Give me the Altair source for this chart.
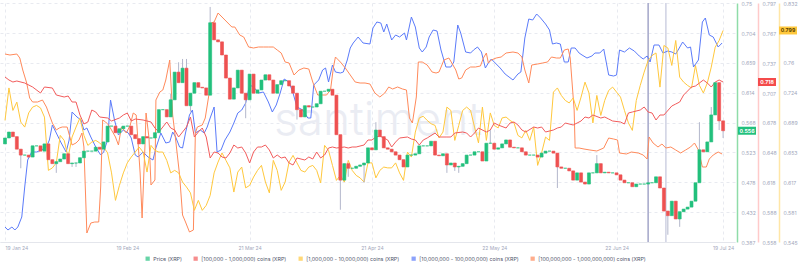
import altair as alt
import pandas as pd

# ---------------- data ----------------
tick_days = [0, 31, 62, 93, 124, 155, 182]          # days after 19 Jan 2024
tick_labels = ["19 Jan 24", "19 Feb 24", "21 Mar 24", "21 Apr 24",
               "22 May 24", "22 Jun 24", "19 Jul 24"]

# daily XRP close, 19 Jan 2024 .. 19 Jul 2024
price_close = [
    0.545, 0.554, 0.547, 0.528, 0.519, 0.519, 0.516, 0.533, 0.533, 0.525,
    0.536, 0.512, 0.506, 0.509, 0.513, 0.521, 0.506, 0.507, 0.507, 0.515,
    0.525, 0.525, 0.525, 0.531, 0.528, 0.539, 0.563, 0.563, 0.553, 0.559,
    0.563, 0.563, 0.550, 0.544, 0.536, 0.547, 0.545, 0.545, 0.553, 0.588,
    0.588, 0.577, 0.603, 0.645, 0.629, 0.651, 0.594, 0.613, 0.629, 0.622,
    0.621, 0.610, 0.720, 0.694, 0.691, 0.671, 0.636, 0.604, 0.621, 0.648,
    0.613, 0.603, 0.642, 0.613, 0.618, 0.633, 0.641, 0.633, 0.613, 0.626,
    0.632, 0.632, 0.624, 0.613, 0.588, 0.577, 0.594, 0.592, 0.592, 0.597,
    0.616, 0.616, 0.619, 0.610, 0.550, 0.481, 0.506, 0.499, 0.499, 0.502,
    0.504, 0.507, 0.530, 0.527, 0.557, 0.547, 0.530, 0.528, 0.524, 0.519,
    0.512, 0.501, 0.519, 0.519, 0.521, 0.533, 0.533, 0.533, 0.540, 0.519,
    0.518, 0.521, 0.504, 0.507, 0.501, 0.502, 0.506, 0.519, 0.519, 0.524,
    0.524, 0.510, 0.537, 0.537, 0.528, 0.530, 0.536, 0.542, 0.531, 0.530,
    0.530, 0.524, 0.519, 0.519, 0.519, 0.516, 0.522, 0.525, 0.525, 0.522,
    0.501, 0.499, 0.499, 0.495, 0.481, 0.492, 0.478, 0.475, 0.492, 0.492,
    0.506, 0.492, 0.493, 0.492, 0.492, 0.489, 0.481, 0.477, 0.477, 0.471,
    0.475, 0.475, 0.475, 0.477, 0.477, 0.486, 0.469, 0.434, 0.427, 0.449,
    0.422, 0.433, 0.437, 0.440, 0.449, 0.477, 0.527, 0.524, 0.539, 0.580,
    0.629, 0.571, 0.556,
]
price_first_open = 0.536
wick_high = {42: 0.612, 44: 0.660, 45: 0.665, 46: 0.665, 52: 0.744, 53: 0.712,
             94: 0.569, 123: 0.557, 150: 0.519, 176: 0.569, 179: 0.592}
wick_low = {4: 0.499, 13: 0.492, 17: 0.501, 18: 0.501, 47: 0.585, 61: 0.575,
            74: 0.573, 85: 0.436, 86: 0.481, 87: 0.486, 91: 0.477, 112: 0.492,
            114: 0.495, 115: 0.492, 140: 0.469, 168: 0.398, 171: 0.410,
            181: 0.557, 182: 0.545}

red_days = [0, 1, 2, 3, 5, 7, 9, 10, 12, 13, 15, 16, 17, 18, 19, 20, 21, 22, 23, 24,
            26, 27, 29, 30, 31, 32, 33, 35, 37, 38, 39, 40, 41, 42, 43, 44, 45, 46, 47, 48,
            49, 50, 51, 52, 53, 54, 55, 56, 57, 58, 59, 60, 61, 62, 63, 64, 65, 66, 67, 68,
            69, 70, 71, 72, 73, 74, 76, 77, 78, 79, 80, 81, 82, 83, 84, 86, 87, 88, 89, 91,
            92, 93, 94, 95, 97, 98, 99, 100, 102, 103, 104, 105, 106, 107, 109, 110, 112, 113, 114, 116,
            117, 118, 119, 120, 122, 123, 124, 125, 127, 128, 129, 130, 131, 132, 134, 135, 136, 137, 139, 140,
            141, 142, 144, 145, 146, 147, 148, 149, 151, 152, 153, 154, 156, 157, 158, 159, 161, 162, 163, 164,
            165, 166, 167, 169, 170, 171, 172, 174, 175, 176, 177, 178, 179, 180, 181, 182]
red_vals = [0.723, 0.720, 0.718, 0.719, 0.717, 0.713, 0.707, 0.713, 0.712, 0.705,
            0.703, 0.704, 0.698, 0.698, 0.685, 0.676, 0.678, 0.690, 0.688, 0.683,
            0.682, 0.679, 0.682, 0.685, 0.687, 0.679, 0.681, 0.680, 0.678, 0.672,
            0.668, 0.673, 0.678, 0.672, 0.670, 0.663, 0.668, 0.673, 0.683, 0.663,
            0.668, 0.672, 0.663, 0.642, 0.648, 0.647, 0.643, 0.642, 0.647, 0.655,
            0.652, 0.653, 0.647, 0.637, 0.648, 0.653, 0.653, 0.655, 0.650, 0.642,
            0.645, 0.642, 0.643, 0.637, 0.635, 0.642, 0.640, 0.643, 0.641, 0.648,
            0.642, 0.645, 0.652, 0.653, 0.652, 0.653, 0.652, 0.653, 0.653, 0.655,
            0.660, 0.660, 0.663, 0.664, 0.660, 0.653, 0.658, 0.662, 0.663, 0.661,
            0.660, 0.655, 0.660, 0.662, 0.667, 0.663, 0.663, 0.663, 0.667, 0.668,
            0.667, 0.663, 0.667, 0.672, 0.668, 0.670, 0.677, 0.675, 0.672, 0.677,
            0.678, 0.675, 0.670, 0.668, 0.673, 0.672, 0.673, 0.668, 0.670, 0.672,
            0.673, 0.677, 0.675, 0.677, 0.679, 0.683, 0.682, 0.685, 0.682, 0.683,
            0.681, 0.679, 0.678, 0.676, 0.687, 0.688, 0.690, 0.693, 0.688, 0.687,
            0.680, 0.685, 0.685, 0.694, 0.696, 0.698, 0.705, 0.713, 0.714, 0.717,
            0.720, 0.717, 0.713, 0.718, 0.720, 0.718]

# daily values, 19 Jan .. 19 Jul
yellow_vals = [
    0.691, 0.730, 0.703, 0.713, 0.689, 0.683, 0.700, 0.707, 0.709, 0.706,
    0.695, 0.631, 0.634, 0.640, 0.673, 0.667, 0.647, 0.671, 0.683, 0.694,
    0.673, 0.661, 0.665, 0.667, 0.664, 0.659, 0.652, 0.628, 0.595, 0.613,
    0.628, 0.640, 0.647, 0.653, 0.659, 0.653, 0.629, 0.661, 0.655, 0.653,
    0.653, 0.643, 0.628, 0.631, 0.628, 0.617, 0.611, 0.604, 0.583, 0.595,
    0.583, 0.589, 0.601, 0.628, 0.641, 0.652, 0.643, 0.634, 0.605, 0.629,
    0.635, 0.610, 0.613, 0.623, 0.631, 0.637, 0.617, 0.604, 0.643, 0.631,
    0.607, 0.617, 0.641, 0.649, 0.640, 0.631, 0.629, 0.635, 0.637, 0.631,
    0.616, 0.661, 0.655, 0.637, 0.619, 0.625, 0.617, 0.643, 0.631, 0.625,
    0.622, 0.617, 0.640, 0.640, 0.622, 0.631, 0.635, 0.634, 0.634, 0.640,
    0.628, 0.619, 0.653, 0.647, 0.677, 0.694, 0.696, 0.691, 0.687, 0.685,
    0.670, 0.677, 0.707, 0.703, 0.667, 0.685, 0.703, 0.707, 0.703, 0.683,
    0.664, 0.707, 0.667, 0.700, 0.685, 0.682, 0.694, 0.695, 0.691, 0.688,
    0.673, 0.670, 0.679, 0.667, 0.683, 0.637, 0.652, 0.671, 0.667, 0.725,
    0.730, 0.721, 0.715, 0.712, 0.718, 0.703, 0.719, 0.737, 0.724, 0.688,
    0.721, 0.697, 0.715, 0.727, 0.731, 0.725, 0.719, 0.703, 0.688, 0.679,
    0.715, 0.733, 0.749, 0.763, 0.769, 0.772, 0.731, 0.781, 0.778, 0.757,
    0.787, 0.743, 0.737, 0.733, 0.730, 0.757, 0.733, 0.724, 0.736, 0.755,
    0.779, 0.787, 0.799,
]

blue_pts = [(0, .315), (0.75, .312), (1.75, .315), (2.5, .312), (3.25, .315), (4.25, .325), (5, .355),
            (5.75, .382), (6.75, .390), (8, .390), (9.25, .392), (10.5, .395), (11.25, .402), (12, .417),
            (13, .409), (14.25, .399), (15.5, .390), (16.25, .402), (17, .430), (18.25, .425), (19.25, .422),
            (20, .412), (20.75, .414), (21.75, .405), (23, .395), (24.25, .387), (25, .390), (26, .402),
            (26.75, .442), (27.75, .422), (28.75, .407), (30, .412), (31.25, .409), (32, .404), (33, .387),
            (33.75, .385), (35, .390), (36.25, .385), (37.5, .382), (38.25, .394), (39.5, .409), (40.75, .399),
            (41.75, .400), (42.5, .410), (43.25, .405), (44.25, .395), (45, .394), (45.75, .409), (46.75, .427),
            (47.5, .432), (48.25, .409), (49.5, .412), (50.5, .409), (51.25, .415), (52, .424), (53, .435),
            (53.75, .390), (54.75, .392), (55.75, .402), (57, .410), (58, .419), (59, .429), (60, .432),
            (61, .439), (62, .457), (63, .455), (64.25, .449), (65.5, .450), (66.75, .440), (67.75, .430),
            (68.75, .437), (69.75, .449), (70.75, .463), (72, .460), (73, .449), (74, .435), (75.5, .432),
            (76.75, .424), (77.5, .424), (78.25, .457), (79.5, .462), (80.5, .472), (81.25, .474), (82, .460),
            (83, .477), (83.75, .470), (85, .469), (85.75, .470), (86.75, .482), (87.5, .494), (88.25, .499),
            (89.5, .505), (90.75, .499), (92.5, .498), (93.25, .514), (94.25, .520), (95.25, .519), (96, .510),
            (96.75, .518), (98, .502), (99, .507), (100, .505), (101.25, .509), (101.75, .502), (103, .525),
            (104, .515), (105, .494), (105.75, .490), (106.75, .495), (107.5, .505), (108.5, .512), (109.5, .511),
            (110.5, .492), (111.75, .475), (113, .475), (113.75, .480), (114.75, .517), (115.5, .509),
            (116.75, .490), (118, .489), (118.75, .492), (119.75, .495), (120.75, .490), (121.75, .474),
            (122.5, .479), (123.25, .483), (124.25, .479), (125.5, .474), (126.75, .468), (127.75, .465),
            (128.75, .462), (130, .468), (130.75, .470), (131.75, .504), (132.75, .523), (133.75, .522),
            (134.75, .528), (135.75, .524), (137, .518), (138, .512), (138.75, .498), (139.75, .499),
            (140.75, .498), (141.75, .480), (142.75, .480), (143.5, .494), (144.5, .494), (145.5, .489),
            (146.25, .487), (147.5, .484), (148.75, .486), (149.5, .489), (150.75, .489), (151.75, .493),
            (153, .467), (154.25, .466), (155, .467), (155.75, .492), (157, .490), (158.25, .494), (159.5, .491),
            (160.75, .486), (161.75, .483), (162.75, .486), (163.5, .480), (164.5, .497), (165.75, .497),
            (166.75, .489), (168, .491), (169, .490), (170, .488), (170.75, .493), (171.75, .500), (173, .494),
            (173.75, .495), (174.5, .475), (175.75, .482), (176.75, .520), (177.5, .524), (178.5, .507),
            (179.5, .505), (180.75, .495), (181.75, .499)]

orange_pts = [(0, 1.088), (1.25, 1.087), (3, 1.088), (3.75, 1.084), (4.5, 1.072), (5.5, 1.059), (6.25, 1.044),
              (7, 1.040), (8.25, 1.040), (9.5, 1.042), (10.5, 1.035), (11.25, 1.027), (12, 1.019), (13, 1.012),
              (13.75, 1.014), (14.5, 1.015), (15.75, 1.015), (17, 0.997), (18, 0.999), (18.75, 1.002),
              (19.5, 1.009), (20, 0.995), (20.75, 0.909), (21.75, 0.919), (22.75, 0.920), (23.75, 0.920),
              (24.25, 0.955), (24.75, 1.022), (25.5, 1.020), (26.25, 1.017), (27, 1.012), (28, 1.005),
              (28.75, 0.997), (29.5, 1.015), (30.75, 1.009), (31.75, 1.017), (32.5, 1.029), (33.25, 1.027),
              (34.25, 0.969), (34.75, 0.924), (35.5, 0.999), (35.75, 1.029), (36.5, 1.004), (37, 0.957),
              (38, 0.962), (38.25, 1.042), (39.25, 1.050), (40, 1.052), (40.75, 1.062), (41.75, 1.082),
              (42.5, 1.027), (43.25, 1.002), (44.25, 0.967), (45, 0.927), (45.75, 0.920), (46.75, 0.910),
              (47.75, 0.912), (48.25, 1.009), (48.75, 1.015), (50, 1.017), (50.75, 1.024), (51.75, 1.049),
              (52.25, 1.119), (53, 1.120), (54, 1.129), (55, 1.125), (56.25, 1.120), (57.5, 1.115),
              (58.25, 1.115), (59.5, 1.107), (60.5, 1.105), (61.75, 1.095), (63, 1.094), (64.25, 1.095),
              (65.5, 1.095), (66.75, 1.095), (68, 1.095), (69, 1.092), (70, 1.089), (71, 1.080), (72, 1.079),
              (73.25, 1.067), (74.5, 1.072), (75.75, 1.074), (77, 1.073), (78, 1.060), (79.25, 1.047),
              (80.5, 1.047), (81.5, 1.047), (82.5, 1.052), (83.25, 1.075), (83.75, 1.085), (85, 1.080),
              (86.25, 1.074), (87.5, 1.067), (88.75, 1.060), (90, 1.059), (91.25, 1.059), (92.5, 1.058),
              (93.75, 1.049), (95, 1.045), (96.25, 1.049), (97.25, 1.055), (98.25, 1.053), (99.5, 1.055),
              (100.75, 1.053), (101.75, 1.052), (102.5, 1.024), (103.25, 1.019), (104.25, 1.045),
              (104.75, 1.080), (105.75, 1.080), (107, 1.077), (108.25, 1.070), (109.25, 1.069), (110, 1.070),
              (111.25, 1.082), (112.5, 1.084), (113.25, 1.079), (114.25, 1.072), (115, 1.063), (115.75, 1.064),
              (116.75, 1.072), (118, 1.075), (119.25, 1.075), (120.5, 1.076), (121.25, 1.084), (122, 1.089),
              (122.5, 1.079), (123.25, 1.082), (124.5, 1.084), (125.75, 1.085), (127, 1.089), (128.75, 1.090),
              (130, 1.089), (131, 1.085), (131.75, 1.072), (132.75, 1.059), (133.5, 1.077), (135, 1.078),
              (136.25, 1.079), (137.5, 1.080), (138.5, 1.085), (139.75, 1.084), (140.75, 1.084),
              (141.75, 1.092), (142.75, 1.093), (143.25, 1.084), (144.25, 1.032), (144.5, 0.994),
              (145.5, 0.994), (146.75, 0.993), (148.25, 0.992), (150, 0.991), (151.75, 0.994), (153, 1.004),
              (154.25, 1.003), (155.25, 1.002), (155.75, 0.989), (157.5, 0.988), (158.75, 0.990),
              (160.5, 0.989), (161.75, 0.987), (162.75, 0.983), (163.25, 1.005), (164.25, 0.999),
              (165.5, 0.995), (166.5, 0.998), (167.5, 0.994), (168.75, 0.995), (170, 0.992), (171.25, 0.989),
              (172.5, 0.992), (173.75, 0.995), (174.75, 0.999), (175.75, 0.992), (176.75, 0.975),
              (177.75, 0.975), (178.5, 0.983), (179.5, 0.987), (180.75, 0.990), (181.75, 0.988)]

price_ticks = [0.387, 0.432, 0.478, 0.523, 0.568, 0.614, 0.659, 0.704, 0.75]
red_ticks = [0.558, 0.588, 0.618, 0.648, 0.678, 0.707, 0.737, 0.767, 0.797]
yellow_domain = [0.545, 0.832]
# the 0.796 label sits under the last-value badge in the reference, so it is not shown
yellow_ticks = [0.545, 0.581, 0.617, 0.653, 0.689, 0.724, 0.760, 0.832]
blue_domain = [0.300, 0.539]
orange_domain = [0.900, 1.139]
event_days = [163, 167.5]
event_colors = ["#a3a6c9", "#cfd1e3"]

series_names = ["Price (XRP)", "[100,000 - 1,000,000) coins (XRP)",
                "[1,000,000 - 10,000,000) coins (XRP)",
                "[10,000,000 - 100,000,000) coins (XRP)",
                "[100,000,000 - 1,000,000,000) coins (XRP)"]
series_colors = ["#26c281", "#f25c5c", "#ffc83d", "#5b7bfa", "#ff8a5b"]

# ---------------- build tables ----------------
opens = [price_first_open] + price_close[:-1]
candles = pd.DataFrame({
    "day": list(range(len(price_close))),
    "open": opens,
    "close": price_close,
})
candles["high"] = [wick_high.get(i, max(o, c)) for i, (o, c) in enumerate(zip(opens, price_close))]
candles["low"] = [wick_low.get(i, min(o, c)) for i, (o, c) in enumerate(zip(opens, price_close))]

assert len(red_days) == len(red_vals)
red_df = pd.DataFrame({"day": red_days, "v": red_vals})
yellow_df = pd.DataFrame({"day": list(range(len(yellow_vals))), "v": yellow_vals})
blue_df = pd.DataFrame(blue_pts, columns=["day", "v"])
orange_df = pd.DataFrame(orange_pts, columns=["day", "v"])
events_df = pd.DataFrame({"day": event_days, "c": event_colors})

FONT = "Inter"
LBL = "#a3a8bc"

expr = "''"
for d, l in reversed(list(zip(tick_days, tick_labels))):
    expr = f"datum.value == {d} ? '{l}' : ({expr})"

x_axis = alt.Axis(values=tick_days, labelExpr=expr, grid=True, gridDash=[3, 3],
                  gridColor="#e8eaf0", domainColor="#e4e6ec", ticks=False,
                  labelColor=LBL, labelFontSize=5, labelPadding=3, title=None,
                  labelAlign={"condition": {"test": f"datum.value == {tick_days[0]}", "value": "left"},
                              "value": "center"},
                  labelFont=FONT)
x_enc = alt.X("day:Q", scale=alt.Scale(domain=[0, 183.75], nice=False, zero=False), axis=x_axis)


def yaxis(vals, color, offset, grid=False):
    return alt.Axis(orient="right", offset=offset, values=vals, format=".3~f",
                    grid=grid, gridDash=[3, 3], gridColor="#e8eaf0",
                    domainColor=color, domainWidth=1.5, ticks=False,
                    labelColor=LBL, labelFontSize=5.2, labelPadding=4,
                    labelOverlap=False, labelFont=FONT, title=None)


price_scale = alt.Scale(domain=[price_ticks[0], price_ticks[-1]], nice=False, zero=False)
red_scale = alt.Scale(domain=[red_ticks[0], red_ticks[-1]], nice=False, zero=False)
yellow_scale = alt.Scale(domain=yellow_domain, nice=False, zero=False)

price_axis = yaxis(price_ticks, "#8fdca8", 2, grid=True)
red_axis = yaxis(red_ticks, "#ffcaca", 23)
yellow_axis = yaxis(yellow_ticks, "#ffe6a6", 44)


def badge(value, scale, axis, fill, txt, xpos):
    df = pd.DataFrame({"v": [value], "label": [f"{value:.3f}"]})
    y = alt.Y("v:Q", scale=scale, axis=axis)
    box = alt.Chart(df).mark_tick(orient="horizontal", size=18, thickness=8,
                                  color=fill, opacity=1).encode(x=alt.value(xpos), y=y)
    t = alt.Chart(df).mark_text(fontSize=5.2, fontWeight="bold", color=txt,
                                font=FONT).encode(x=alt.value(xpos), y=y, text="label:N")
    return box + t


watermark = alt.Chart(pd.DataFrame({"t": ["santiment"]})).mark_text(
    fontSize=46, font=FONT, fontWeight=300, color="#eaecf3"
).encode(x=alt.value(378), y=alt.value(118), text="t:N")

events = alt.Chart(events_df).mark_rule(strokeWidth=1.5).encode(
    x=x_enc, stroke=alt.Stroke("c:N", scale=None))

blue_layer = alt.Chart(blue_df).mark_line(strokeWidth=1, color=series_colors[3]).encode(
    x=x_enc, y=alt.Y("v:Q", scale=alt.Scale(domain=blue_domain, nice=False, zero=False), axis=None))
orange_layer = alt.Chart(orange_df).mark_line(strokeWidth=1, color=series_colors[4]).encode(
    x=x_enc, y=alt.Y("v:Q", scale=alt.Scale(domain=orange_domain, nice=False, zero=False), axis=None))
yellow_layer = alt.layer(
    alt.Chart(yellow_df).mark_line(strokeWidth=1, color=series_colors[2]).encode(
        x=x_enc, y=alt.Y("v:Q", scale=yellow_scale, axis=yellow_axis)),
    badge(yellow_vals[-1], yellow_scale, yellow_axis, "#ffc83d", "#5a4200", 788),
)
red_layer = alt.layer(
    alt.Chart(red_df).mark_line(strokeWidth=1, color=series_colors[1]).encode(
        x=x_enc, y=alt.Y("v:Q", scale=red_scale, axis=red_axis)),
    badge(red_vals[-1], red_scale, red_axis, "#f44b4b", "white", 767),
)

up = "datum.close >= datum.open"
wick = alt.Chart(candles).mark_rule(strokeWidth=1, color="#b3b7cb").encode(
    x=x_enc, y=alt.Y("low:Q", scale=price_scale, axis=price_axis), y2="high:Q")
body = alt.Chart(candles).mark_bar(size=3, strokeWidth=0.6).encode(
    x=x_enc, y=alt.Y("open:Q", scale=price_scale, axis=price_axis), y2="close:Q",
    color=alt.condition(up, alt.value("#22c07c"), alt.value("#ee5151")),
    stroke=alt.condition(up, alt.value("#22c07c"), alt.value("#ee5151")))
price_layer = alt.layer(
    wick, body,
    badge(price_close[-1], price_scale, price_axis, "#22c07c", "white", 747),
)

legend_layer = alt.Chart(pd.DataFrame({"series": series_names})).transform_filter(
    "false").mark_square(filled=True).encode(
    x=alt.value(0), y=alt.value(0),
    color=alt.Color("series:N", scale=alt.Scale(domain=series_names, range=series_colors),
                    legend=alt.Legend(orient="none", legendX=145, legendY=253,
                                      direction="horizontal", title=None,
                                      symbolType="square", symbolSize=18,
                                      symbolStrokeWidth=0, labelFontSize=5.3,
                                      labelColor="#4f546a", columnPadding=11,
                                      labelOffset=3, labelFont=FONT)))

chart = alt.layer(
    watermark, events, blue_layer, orange_layer, yellow_layer, red_layer,
    price_layer, legend_layer,
).resolve_scale(y="independent").properties(
    width=735, height=239,
    autosize=alt.AutoSizeParams(type="none"),
    padding={"left": 0, "top": 3, "right": 65, "bottom": 29},
).configure_view(stroke=None)

chart.save("out.html", embed_options={"renderer": "svg", "actions": False})
